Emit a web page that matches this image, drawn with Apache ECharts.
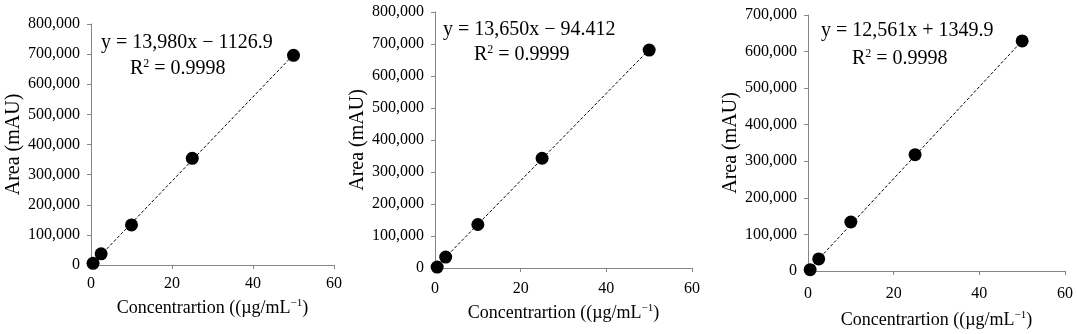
<!DOCTYPE html>
<html><head><meta charset="utf-8">
<script src="https://cdn.jsdelivr.net/npm/echarts@6/dist/echarts.min.js"></script>
<style>html,body{margin:0;padding:0;background:#fff}#c{width:1077px;height:334px}</style>
</head><body><div id="c"></div>
<script>
const concentrations = [0.5, 2.5, 10, 25, 50];
const area1 = [5600, 37000, 133000, 354000, 696000];
const area2 = [3000, 34000, 136000, 343000, 681000];
const area3 = [3500, 33000, 134000, 318000, 629000];
const trendX = [0.5, 50];
const trend1Y = [5900, 697900];
const trend2Y = [6700, 682400];
const trend3Y = [7600, 629400];
const equations = ['y = 13,980x − 1126.9', 'y = 13,650x − 94.412', 'y = 12,561x + 1349.9'];
const r2Values = ['0.9998', '0.9999', '0.9998'];
const yMax = [800000, 800000, 700000];
const xTitle = 'Concentrartion ((µg/mL';
const yTitle = 'Area (mAU)';

const FONT = 'Liberation Serif';
const grids = [
  {left: 91, right: 743, top: 24, bottom: 69},
  {left: 435, right: 385, top: 12, bottom: 66},
  {left: 808, right: 12, top: 15, bottom: 63}
];
const xNameGaps = [33, 35, 39];
const xLabelMargins = [11, 13, 15];
const yNameGaps = [66, 60, 66];
const eqPos = [
  [{x: 101, y: 45}, {x: 130, y: 70}],
  [{x: 443, y: 32}, {x: 474, y: 56}],
  [{x: 821, y: 33}, {x: 852, y: 60}]
];
const areas = [area1, area2, area3];
const trends = [trend1Y, trend2Y, trend3Y];
const axisLine = {show: true, lineStyle: {color: '#868686', width: 1}};

const option = {
  animation: false,
  grid: grids,
  xAxis: grids.map((g, i) => ({
    gridIndex: i, type: 'value', min: 0, max: 60, interval: 20,
    axisLine: axisLine, axisTick: {show: true, length: 4, lineStyle: {color: '#868686'}},
    splitLine: {show: false},
    axisLabel: {color: '#000', fontFamily: FONT, fontSize: 16, margin: xLabelMargins[i]},
    name: '{m|' + xTitle + '}{s|−1}{m|)}', nameLocation: 'middle', nameGap: xNameGaps[i],
    nameTextStyle: {rich: {
      m: {color: '#000', fontFamily: FONT, fontSize: 18},
      s: {color: '#000', fontFamily: FONT, fontSize: 11, padding: [0, 0, 9, 0]}
    }}
  })),
  yAxis: grids.map((g, i) => ({
    gridIndex: i, type: 'value', min: 0, max: yMax[i], interval: 100000,
    axisLine: axisLine, axisTick: {show: true, length: 4, lineStyle: {color: '#868686'}},
    splitLine: {show: false},
    axisLabel: {color: '#000', fontFamily: FONT, fontSize: 16, margin: 11,
      formatter: v => v.toLocaleString('en-US')},
    name: yTitle, nameLocation: 'middle', nameGap: yNameGaps[i],
    nameTextStyle: {color: '#000', fontFamily: FONT, fontSize: 20}
  })),
  series: [],
  graphic: []
};
for (let i = 0; i < 3; i++) {
  option.series.push({
    type: 'line', xAxisIndex: i, yAxisIndex: i,
    data: trendX.map((x, k) => [x, trends[i][k]]),
    symbol: 'none', lineStyle: {color: '#000', width: 1, type: [3, 2]}, z: 2
  });
  option.series.push({
    type: 'scatter', xAxisIndex: i, yAxisIndex: i,
    data: concentrations.map((x, k) => [x, areas[i][k]]),
    symbol: 'circle', symbolSize: 13, itemStyle: {color: '#000', opacity: 1}, z: 3
  });
  option.graphic.push({
    type: 'text', left: eqPos[i][0].x, top: eqPos[i][0].y - 12,
    style: {text: equations[i], fill: '#000', font: '20px "' + FONT + '"'}
  });
  option.graphic.push({
    type: 'text', left: eqPos[i][1].x, top: eqPos[i][1].y - 12,
    style: {text: '{m|R}{s|2}{m| = ' + r2Values[i] + '}',
      rich: {
        m: {fill: '#000', fontFamily: FONT, fontSize: 20},
        s: {fill: '#000', fontFamily: FONT, fontSize: 12, padding: [0, 0, 9, 0]}
      }}
  });
}
const chart = echarts.init(document.getElementById('c'), null, {renderer: 'canvas'});
chart.setOption(option);
</script></body></html>
